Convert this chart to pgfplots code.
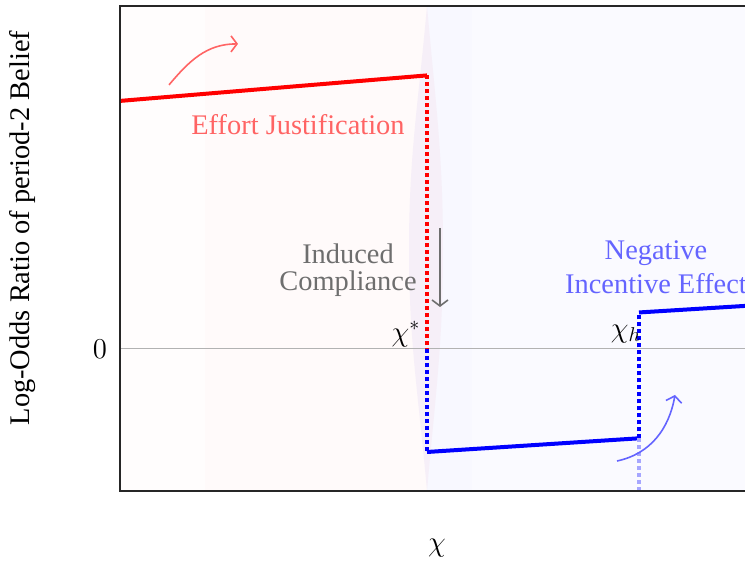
\documentclass[border=0pt]{standalone}
\usepackage{fontspec}
\setmainfont{Liberation Serif}
\usepackage{pgfplots}
\pgfplotsset{compat=1.18}
\usetikzlibrary{arrows.meta}
\definecolor{ejred}{RGB}{255,100,100}
\definecolor{niblue}{RGB}{100,100,255}
\definecolor{icgray}{RGB}{110,110,110}
\definecolor{lens}{RGB}{246,239,248}
\definecolor{bgpinkA}{RGB}{255,253,253}
\definecolor{bgpinkB}{RGB}{255,250,250}
\definecolor{bgblueA}{RGB}{248,248,255}
\definecolor{bgblueB}{RGB}{250,250,255}
\begin{document}
\begin{tikzpicture}[font=\fontsize{14.2}{16.5}\selectfont]
\path[use as bounding box] (-60pt,-38pt) rectangle (312.5pt,245.5pt);
\clip (-60pt,-38pt) rectangle (312.5pt,245.5pt);
\begin{axis}[
  at={(0pt,0pt)}, anchor=south west,
  scale only axis, width=317pt, height=242.5pt,
  xmin=0, xmax=6.34, ymin=-1.42, ymax=3.43,
  xtick=\empty, ytick={0}, yticklabels={$0$},
  major tick length=0pt,
  yticklabel style={xshift=-3pt, font=\fontsize{14}{16}\selectfont},
  axis line style={line width=1pt, black!85},
  xlabel={$\chi$},
  xlabel style={at={(rel axis cs:0.5,0)}, anchor=center, yshift=-28.5pt, font=\fontsize{14}{16}\selectfont},
  ylabel={Log-Odds Ratio of period-2 Belief},
  ylabel style={at={(rel axis cs:0,0.542)}, anchor=center, yshift=48.5pt},
  axis on top,
]
\fill[bgpinkA] (axis cs:0,-1.42) rectangle (axis cs:0.85,3.43);
\fill[bgpinkB] (axis cs:0.85,-1.42) rectangle (axis cs:3.07,3.43);
\fill[bgblueA] (axis cs:3.07,-1.42) rectangle (axis cs:3.52,3.43);
\fill[bgblueB] (axis cs:3.52,-1.42) rectangle (axis cs:6.34,3.43);
\fill[lens] (axis cs:3.07,3.43) to[out=-95,in=90] (axis cs:2.89,1.0) to[out=-90,in=95] (axis cs:3.07,-1.42)
  to[out=85,in=-90] (axis cs:3.23,1.0) to[out=90,in=-85] cycle;
\draw[gray!60, line width=0.5pt] (axis cs:0,0) -- (axis cs:6.34,0);

\addplot[red, line width=2pt, smooth] coordinates {(0,2.48) (1.5,2.605) (3.07,2.735)};
\addplot[red, line width=1.8pt, dash pattern=on 2pt off 1.5pt] coordinates {(3.07,2.735) (3.07,0)};
\addplot[blue, line width=1.8pt, dash pattern=on 2pt off 1.5pt] coordinates {(3.07,0) (3.07,-1.03)};
\addplot[blue, line width=2pt] coordinates {(3.07,-1.03) (5.19,-0.893)};
\addplot[blue, line width=1.8pt, dash pattern=on 2pt off 1.5pt] coordinates {(5.19,-0.893) (5.19,0.365)};
\addplot[blue, line width=2pt] coordinates {(5.19,0.365) (6.34,0.436)};
\addplot[blue!35, line width=1.8pt, dash pattern=on 2pt off 1.5pt] coordinates {(5.19,-1.42) (5.19,-0.893)};

\draw[ejred, line width=0.8pt, -{Straight Barb[length=3pt,width=8pt]}] (axis cs:0.49,2.64) to[out=50,in=180] (axis cs:1.18,3.05);
\draw[icgray, line width=0.8pt, -{Straight Barb[length=3pt,width=8pt]}] (axis cs:3.20,1.21) -- (axis cs:3.20,0.42);
\draw[niblue, line width=0.8pt, -{Straight Barb[length=3pt,width=8pt]}] (axis cs:4.97,-1.12) to[out=12,in=-100] (axis cs:5.55,-0.46);

\node[text=ejred] at (axis cs:1.78,2.24) {Effort Justification};
\node[text=icgray, align=center, font=\fontsize{14.2}{13.5}\selectfont] at (axis cs:2.28,0.79) {Induced\\Compliance};
\node[text=niblue, align=center, font=\fontsize{14.2}{17}\selectfont] at (axis cs:5.36,0.82) {Negative\\Incentive Effect};
\node[font=\fontsize{14}{16}\selectfont] at (axis cs:2.86,0.15) {$\chi^*$};
\node[font=\fontsize{14}{16}\selectfont] at (axis cs:5.06,0.15) {$\chi_h$};
\end{axis}
\end{tikzpicture}
\end{document}
